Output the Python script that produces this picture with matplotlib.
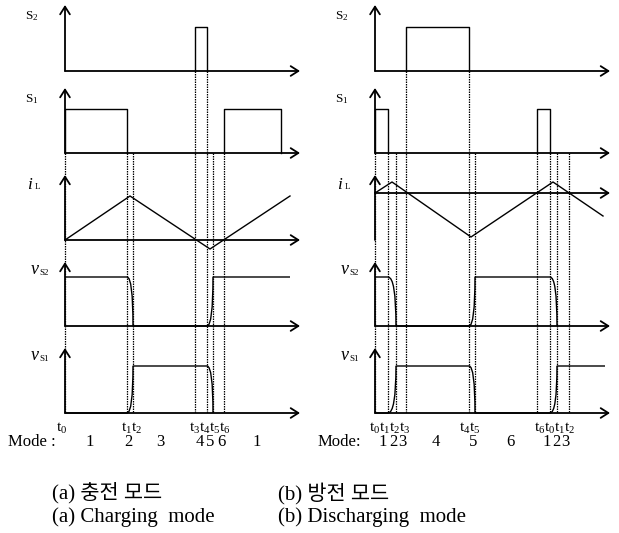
import matplotlib.pyplot as plt
from matplotlib.path import Path
from matplotlib.patches import PathPatch

plt.rcParams['font.family'] = ['Liberation Serif', 'Noto Sans CJK KR']
plt.rcParams['mathtext.fontset'] = 'custom'
plt.rcParams['mathtext.rm'] = 'Liberation Serif'
plt.rcParams['mathtext.it'] = 'Liberation Serif:italic'

# ---- charging mode (a) ----
a_t = [65, 127, 133, 195, 207, 213, 224]          # t0 .. t6
a_t_from = [153, 153, 153, 71, 71, 153, 153]      # row where each guide starts
a_s2_on = [(195, 207)]
a_s1_on = [(65, 127), (224, 281)]
a_il_x = [65, 130, 210, 290]
a_il_y = [0, 44, -9, 44]
a_vs2 = [(65, 1), (127, 1), (133, 0), (207, 0), (213, 1), (290, 1)]
a_vs1 = [(65, 0), (127, 0), (133, 1), (207, 1), (213, 0)]
a_tlabels = ['t$_0$', 't$_1$t$_2$', 't$_3$t$_4$t$_5$t$_6$']
a_tlabel_x = [62, 132, 210]
a_modes = ['1', '2', '3', '4', '5', '6', '1']
a_mode_x = [90, 128, 160, 200, 210, 221, 257]

# ---- discharging mode (b) ----
b_t = [375, 388, 396, 406, 469, 475, 537, 550, 557, 569]   # t0 .. t6, t0 t1 t2
b_t_from = [153, 153, 153, 71, 71, 153, 153, 153, 153, 153]
b_s2_on = [(406, 469)]
b_s1_on = [(375, 388), (537, 550)]
b_il_x = [375, 392, 471, 553, 603]
b_il_y = [0, 11, -44, 11, -23]
b_vs2 = [(375, 1), (388, 1), (396, 0), (469, 0), (475, 1), (550, 1), (557, 0)]
b_vs1 = [(375, 0), (388, 0), (396, 1), (469, 1), (475, 0), (550, 0), (557, 1), (605, 1)]
b_tlabels = ['t$_0$t$_1$t$_2$t$_3$', 't$_4$t$_5$', 't$_6$t$_0$t$_1$t$_2$']
b_tlabel_x = [390, 470, 555]
b_modes = ['1', '2', '3', '4', '5', '6', '1', '2', '3']
b_mode_x = [383, 393, 402, 436, 473, 510, 547, 556, 565]

# rows: baseline y, arrow tip y, high level height
rows = {'S2': (71, 5, 44), 'S1': (153, 88, 44), 'iL': (240, 175, 0),
        'vS2': (326, 262, 49), 'vS1': (413, 348, 47)}

fig = plt.figure(figsize=(6.19, 5.33), dpi=100)
ax = fig.add_axes([0, 0, 1, 1])
ax.set_xlim(0, 619)
ax.set_ylim(533, 0)
ax.axis('off')

AX_LW = 1.3
WV_LW = 1.0


def arrow(x0, y0, x1, y1):
    ax.annotate('', xy=(x1, y1), xytext=(x0, y0),
                arrowprops=dict(arrowstyle='->,head_length=0.55,head_width=0.35',
                                lw=AX_LW, color='black', mutation_scale=10,
                                shrinkA=0, shrinkB=0))


def axes_frame(x0, x1, il_base=None, il_bottom=None):
    for name, (base, top, h) in rows.items():
        if name == 'iL' and il_base is not None:
            arrow(x0, il_bottom, x0, top)
            arrow(x0, il_base, x1, il_base)
        else:
            arrow(x0, base, x0, top)
            arrow(x0, base, x1, base)


def pulses(on, row):
    base, top, h = rows[row]
    for a, b in on:
        ax.plot([a, a, b, b], [base, base - h, base - h, base], color='black', lw=WV_LW)


def edges(pts, row):
    base, top, h = rows[row]
    verts = [(pts[0][0], base - h * pts[0][1])]
    codes = [Path.MOVETO]
    for (xa, la), (xb, lb) in zip(pts[:-1], pts[1:]):
        ya, yb = base - h * la, base - h * lb
        if la == lb:
            verts.append((xb, yb))
            codes.append(Path.LINETO)
        else:
            verts += [(xb, ya), (xb, yb)]
            codes += [Path.CURVE3, Path.CURVE3]
    ax.add_patch(PathPatch(Path(verts, codes), fill=False, lw=WV_LW, ec='black'))


def guides(ts, starts):
    for x, y0 in zip(ts, starts):
        ax.plot([x, x], [y0, rows['vS1'][0]], color='black', lw=0.9,
                ls=(0, (1.2, 0.8)))


def row_labels(x0):
    ax.text(x0 - 40, rows['S2'][1] + 11, 'S$_2$', fontsize=9.5, va='center')
    ax.text(x0 - 40, rows['S1'][1] + 11, 'S$_1$', fontsize=9.5, va='center')
    ax.text(x0 - 38, rows['iL'][1] + 10, 'i', fontsize=12.5, style='italic', va='center')
    ax.text(x0 - 30, rows['iL'][1] + 12, 'L', fontsize=6.5, va='center')
    for name in ('vS2', 'vS1'):
        ax.text(x0 - 34, rows[name][1] + 8, 'v', fontsize=13, style='italic', va='center')
        ax.text(x0 - 26, rows[name][1] + 11, 'S' + name[-1], fontsize=6.5, va='center')


# (a)
guides(a_t, a_t_from)
axes_frame(65, 300)
pulses(a_s2_on, 'S2')
pulses(a_s1_on, 'S1')
ax.plot(a_il_x, [rows['iL'][0] - v for v in a_il_y], color='black', lw=WV_LW)
edges(a_vs2, 'vS2')
edges(a_vs1, 'vS1')
row_labels(65)
for s, x in zip(a_tlabels, a_tlabel_x):
    ax.text(x, 428, s, fontsize=11, ha='center', va='center')
ax.text(8, 442, 'Mode :', fontsize=12, va='center')
for s, x in zip(a_modes, a_mode_x):
    ax.text(x, 442, s, fontsize=12, ha='center', va='center')

# (b)
guides(b_t, b_t_from)
axes_frame(375, 610, il_base=193, il_bottom=240)
pulses(b_s2_on, 'S2')
pulses(b_s1_on, 'S1')
ax.plot(b_il_x, [193 - v for v in b_il_y], color='black', lw=WV_LW)
edges(b_vs2, 'vS2')
edges(b_vs1, 'vS1')
row_labels(375)
for s, x in zip(b_tlabels, b_tlabel_x):
    ax.text(x, 428, s, fontsize=11, ha='center', va='center')
ax.text(318, 442, 'Mode:', fontsize=12, va='center')
for s, x in zip(b_modes, b_mode_x):
    ax.text(x, 442, s, fontsize=12, ha='center', va='center')

# captions
ax.text(52, 493, '(a) 충전 모드', fontsize=15, va='center')
ax.text(52, 517, '(a) Charging  mode', fontsize=15, va='center')
ax.text(278, 493, '(b) 방전 모드', fontsize=15, va='center')
ax.text(278, 517, '(b) Discharging  mode', fontsize=15, va='center')

fig.savefig('out.png', dpi=100)
